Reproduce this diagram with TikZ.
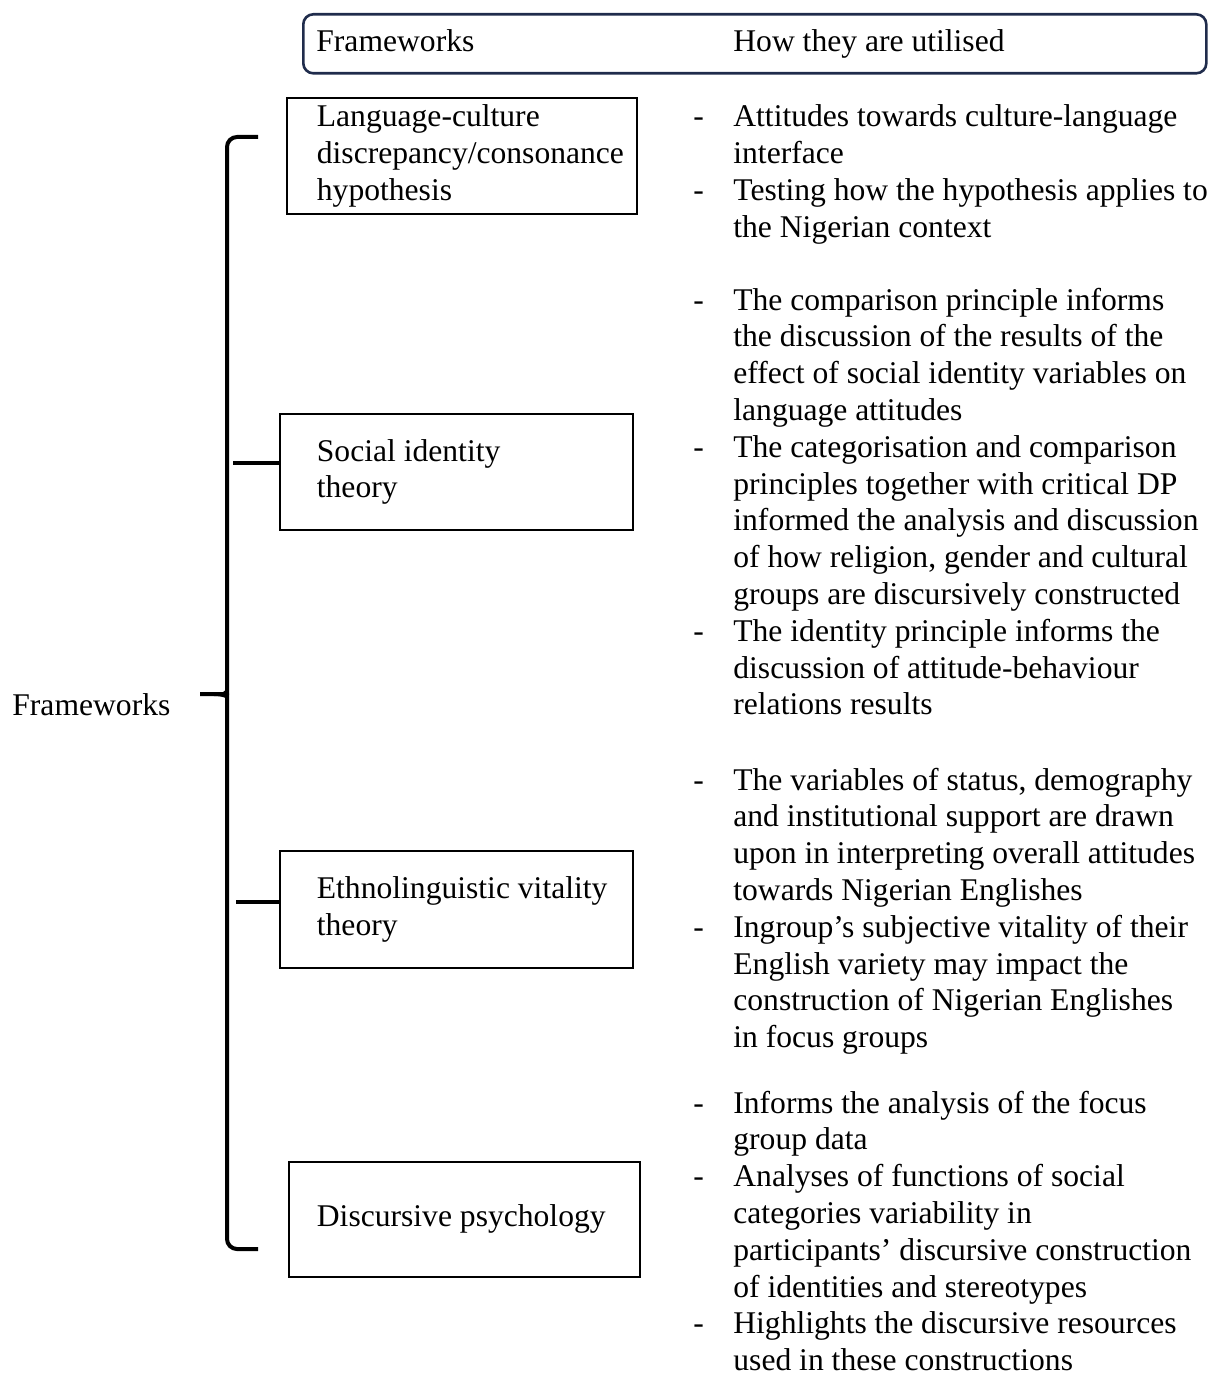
\documentclass[tikz,border=0pt]{standalone}
\usepackage{fontspec}
\setmainfont{Liberation Serif}
\usepackage{tikz}
\usetikzlibrary{positioning}
\usepackage{xcolor}
\definecolor{navy}{RGB}{32,44,76}

\newcommand{\fwfont}{\fontsize{15.8}{18.4}\selectfont}

\begin{document}
\begin{tikzpicture}[x=0.5pt, y=-0.5pt,
  every node/.style={font=\fwfont, inner sep=0pt},
  fwbox/.style={draw, line width=0.9pt, anchor=north west, align=flush left, minimum height=58pt},
  uses/.style={anchor=base west},
  brace/.style={line width=2pt},
  tick/.style={line width=1.8pt}]
  \useasboundingbox (0,0) rectangle (1217,1380);

  % header
  \node[draw=navy, line width=1.3pt, rounded corners=5pt, anchor=north west,
        minimum width=451.5pt, minimum height=29.5pt] (hdr) at (302,13) {};
  \node[anchor=base west] (hfw) at (316,52) {Frameworks};
  \node[anchor=base west] (hhow) at (733,52) {How they are utilised};

  % frameworks
  \node[anchor=base west] (fw) at (12,715) {Frameworks};
  \node[fwbox, text width=145pt, inner xsep=15pt] (lcd) at (286,97)
    {Language-culture\\discrepancy/consonance\\hypothesis};
  \node[fwbox, text width=139.5pt, inner xsep=18.5pt] (sit) at (279,413)
    {Social identity\\theory};
  \node[fwbox, text width=139.5pt, inner xsep=18.5pt, minimum height=58.5pt] (evt) at (279,850)
    {\mbox{Ethnolinguistic vitality}\\theory};
  \node[fwbox, text width=147.5pt, inner xsep=14pt, minimum height=57.5pt] (dp) at (288,1161)
    {Discursive psychology};

  % brace
  \draw[brace, rounded corners=5pt] (258,137) -- (227,137) -- (227,682)
    .. controls (227,691) and (224,694) .. (214,694) -- (200,694);
  \draw[brace, rounded corners=5pt] (214,694) .. controls (224,694) and (227,697) .. (227,706)
    -- (227,1249) -- (258,1249);
  \coordinate (t2) at (233,463);
  \coordinate (t3) at (236,902);
  \draw[tick] (t2) -- (t2 -| sit.west);
  \draw[tick] (t3) -- (t3 -| evt.west);

  % how they are utilised
  \node[uses] (u1) at (693,127) {\begin{tabular}[t]{@{}p{20pt}@{}l@{}}
    -&Attitudes towards culture-language\\
     &interface\\
    -&Testing how the hypothesis applies to\\
     &the Nigerian context
  \end{tabular}};
  \node[uses] (u2) at (693,310) {\begin{tabular}[t]{@{}p{20pt}@{}l@{}}
    -&The comparison principle informs\\
     &the discussion of the results of the\\
     &effect of social identity variables on\\
     &language attitudes\\
    -&The categorisation and comparison\\
     &principles together with critical DP\\
     &informed the analysis and discussion\\
     &of how religion, gender and cultural\\
     &groups are discursively constructed\\
    -&The identity principle informs the\\
     &discussion of attitude-behaviour\\
     &relations results
  \end{tabular}};
  \node[uses] (u3) at (693,790) {\begin{tabular}[t]{@{}p{20pt}@{}l@{}}
    -&The variables of status, demography\\
     &and institutional support are drawn\\
     &upon in interpreting overall attitudes\\
     &towards Nigerian Englishes\\
    -&Ingroup’s subjective vitality of their\\
     &English variety may impact the\\
     &construction of Nigerian Englishes\\
     &in focus groups
  \end{tabular}};
  \node[uses] (u4) at (693,1113) {\begin{tabular}[t]{@{}p{20pt}@{}l@{}}
    -&Informs the analysis of the focus\\
     &group data\\
    -&Analyses of functions of social\\
     &categories variability in\\
     &participants’ discursive construction\\
     &of identities and stereotypes\\
    -&Highlights the discursive resources\\
     &used in these constructions
  \end{tabular}};
\end{tikzpicture}
\end{document}
